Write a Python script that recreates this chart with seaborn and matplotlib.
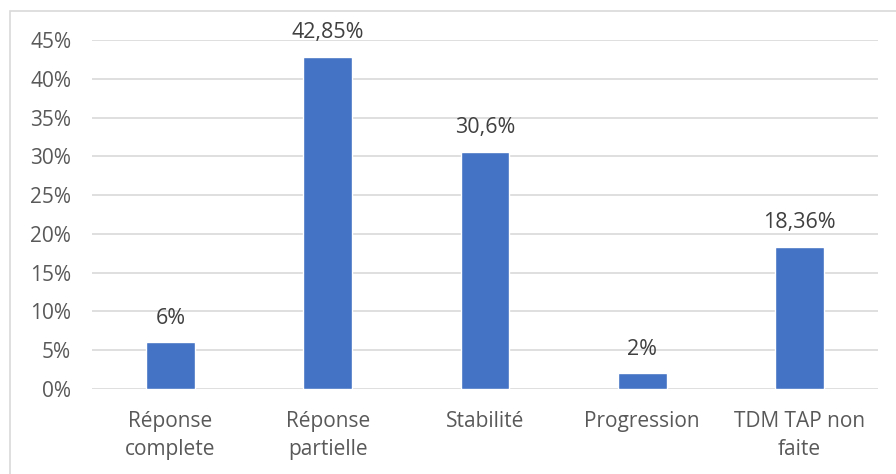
import pandas as pd
import seaborn as sns
import matplotlib.pyplot as plt
from matplotlib.patches import Rectangle
from matplotlib.ticker import FuncFormatter

# Data
categories = ['Réponse\ncomplete', 'Réponse\npartielle', 'Stabilité', 'Progression', 'TDM TAP non\nfaite']
values = [6, 42.85, 30.6, 2, 18.36]
labels = ['6%', '42,85%', '30,6%', '2%', '18,36%']
yticks = [0, 5, 10, 15, 20, 25, 30, 35, 40, 45]

df = pd.DataFrame({'cat': categories, 'val': values})

sns.set_style('white')
plt.rcParams['font.family'] = ['Open Sans', 'DejaVu Sans']

fig = plt.figure(figsize=(8.96, 4.74), dpi=100)
ax = fig.add_axes([92 / 896, 1 - 389 / 474, 786 / 896, 349 / 474])

sns.barplot(data=df, x='cat', y='val', color='#4472C4', saturation=1, width=0.31, ax=ax, zorder=3)

ax.set_ylim(0, 45)
ax.set_yticks(yticks)
ax.yaxis.set_major_formatter(FuncFormatter(lambda v, p: f'{v:.0f}%'))
ax.grid(axis='y', color='#d9d9d9', linewidth=1.2, zorder=0)
ax.set_axisbelow(True)
for s in ax.spines.values():
    s.set_visible(False)
ax.tick_params(axis='both', length=0, labelsize=15, labelcolor='#595959')
ax.tick_params(axis='y', pad=15)
ax.tick_params(axis='x', pad=16)
for t in ax.get_xticklabels():
    t.set_linespacing(1.45)
ax.set_xlabel('')
ax.set_ylabel('')

for i, (v, t) in enumerate(zip(values, labels)):
    ax.annotate(t, (i, v), xytext=(0, 13.5), textcoords='offset points',
                ha='center', va='baseline', fontsize=15.5, color='#404040')

# chart border
fig.patches.append(Rectangle((10 / 896, -0.01), 1.0, 1 - 11 / 474 + 0.01, transform=fig.transFigure,
                             fill=False, edgecolor='#d9d9d9', linewidth=1.2))

fig.savefig('out.png', dpi=100)
